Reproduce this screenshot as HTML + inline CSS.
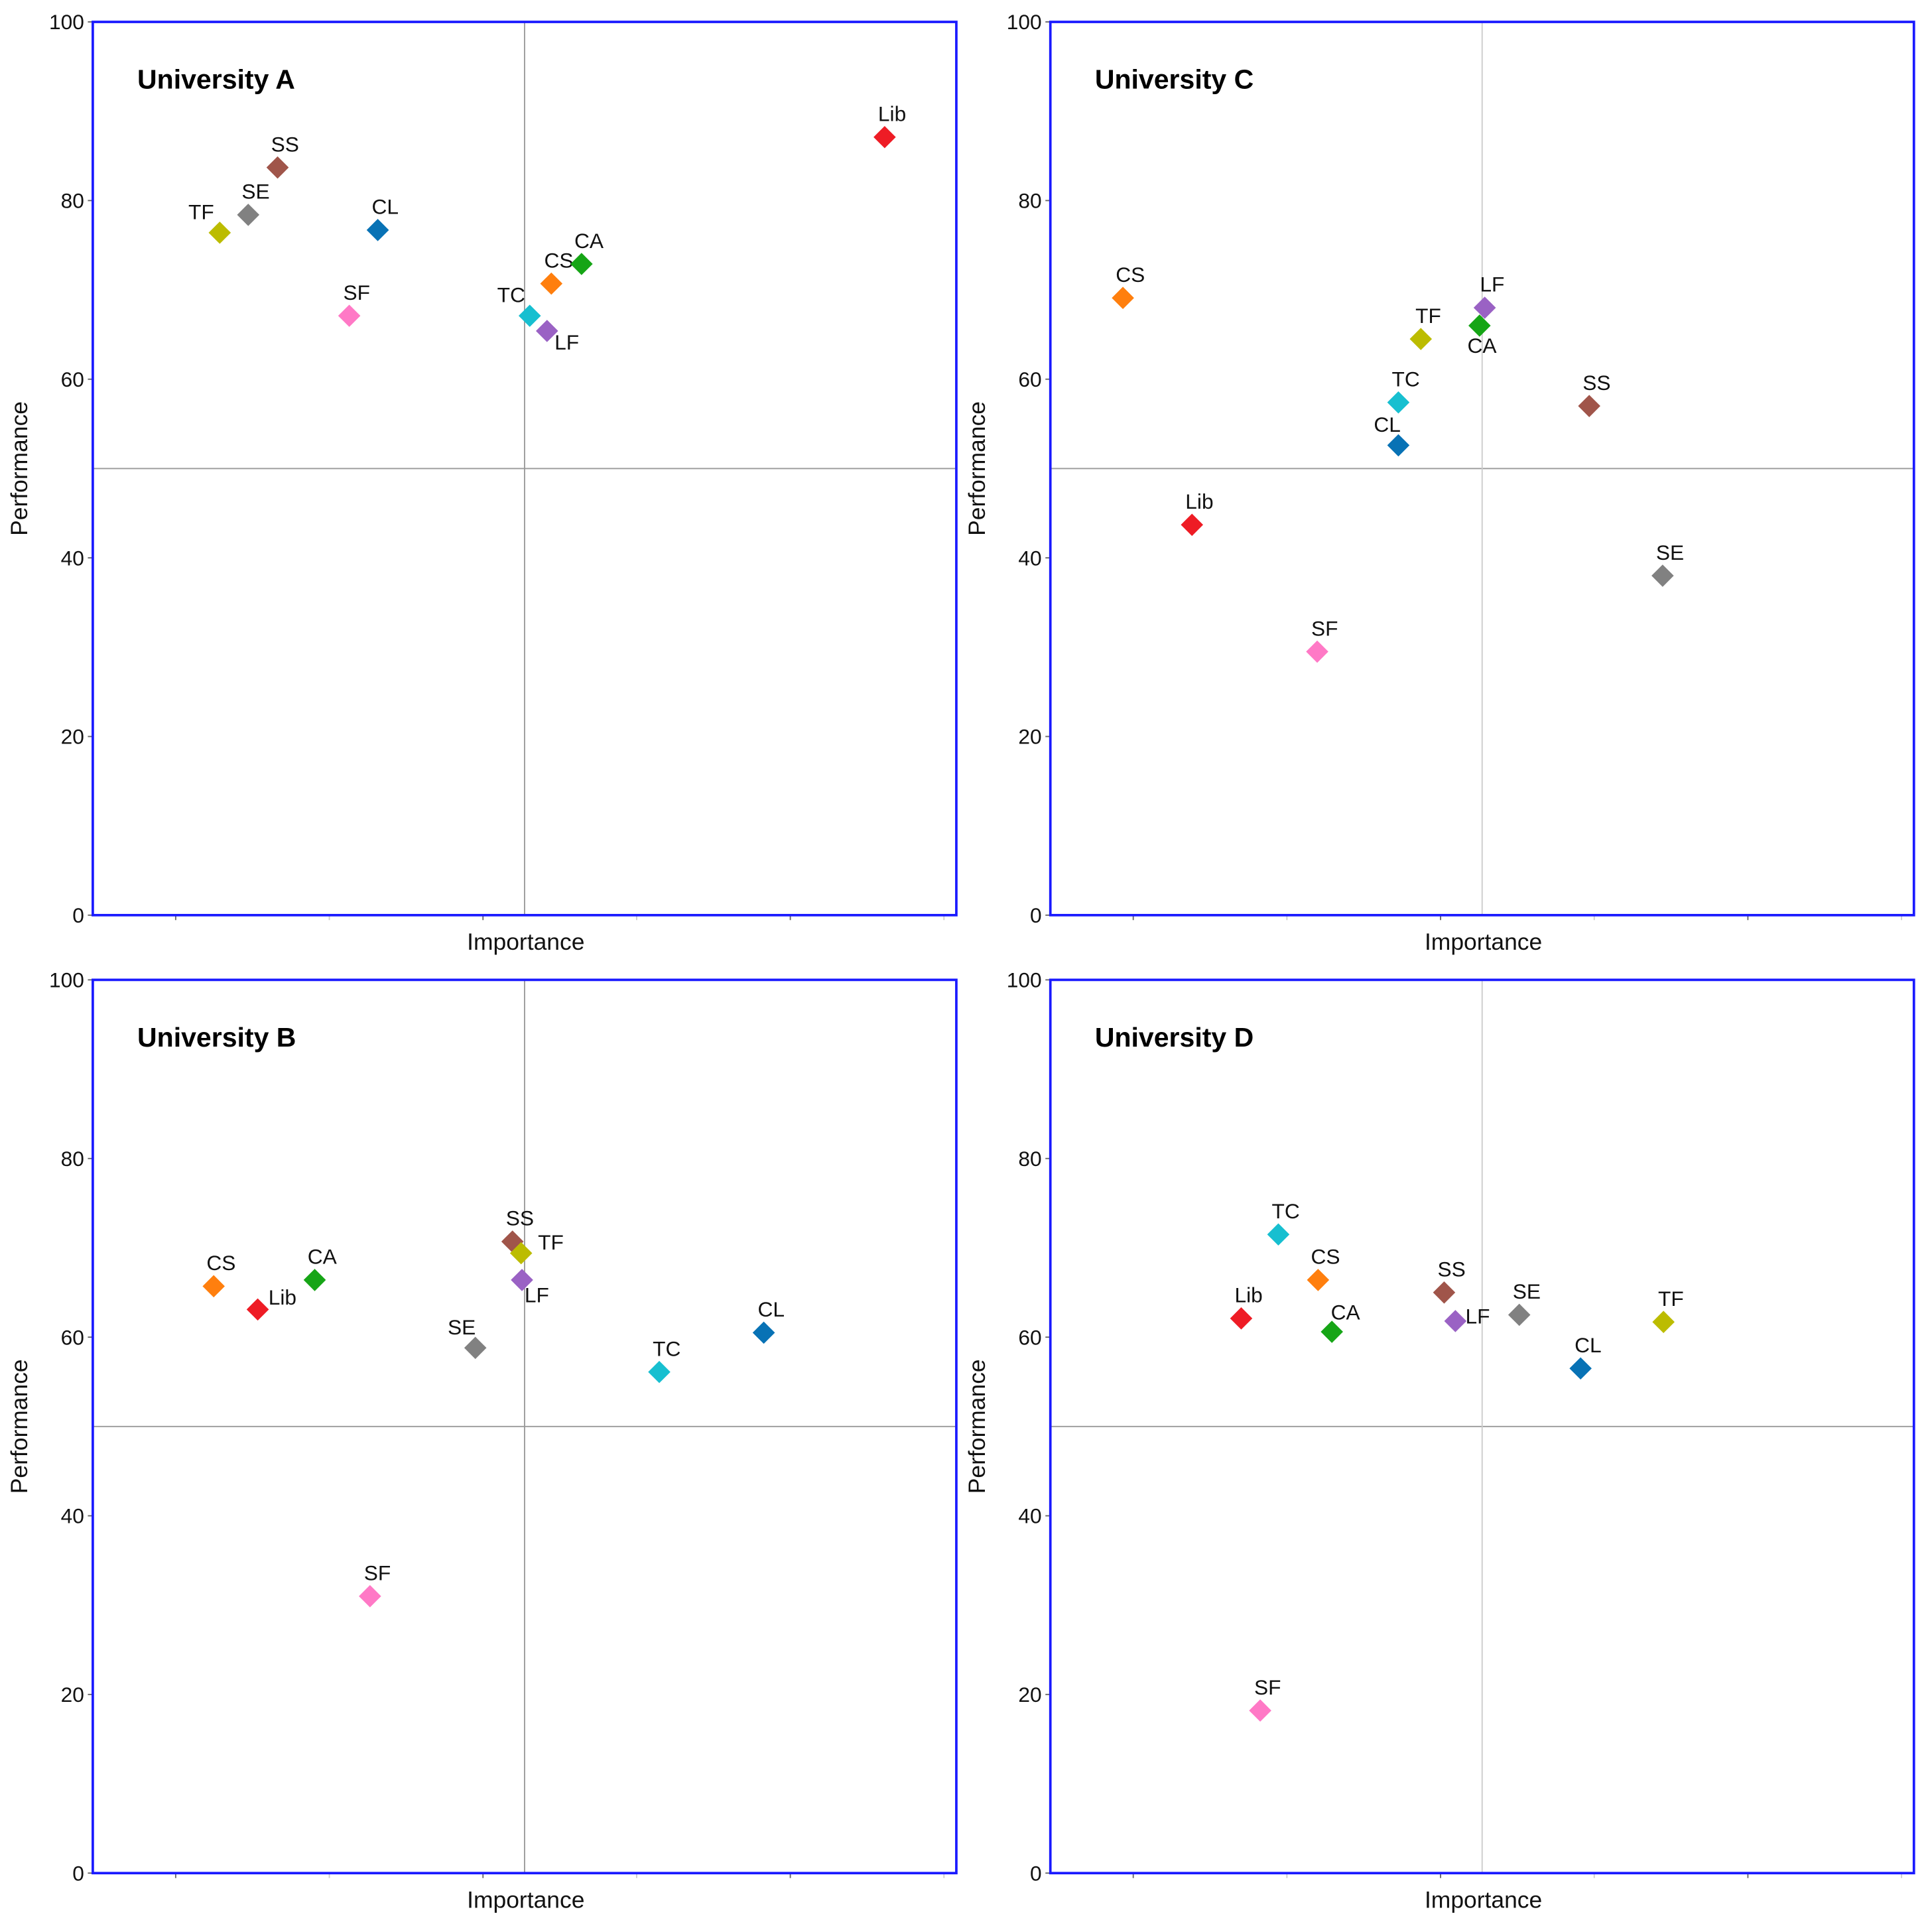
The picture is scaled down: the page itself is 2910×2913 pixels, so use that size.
<!DOCTYPE html>
<html><head><meta charset="utf-8"><style>
html,body{margin:0;padding:0;background:#fff;}
svg{display:block;}
text{font-family:"Liberation Sans",Arial,sans-serif;}
</style></head><body>
<svg id="chart" width="2910" height="2913" viewBox="0 0 1560 1561.6" xmlns="http://www.w3.org/2000/svg"></svg>
<script>
const panelTitles = ["University A","University C","University B","University D"];
const codes = ["Lib","SS","SE","TF","CL","SF","CS","CA","TC","LF"];
const importanceA = [91.7,21.4,18.0,14.7,33.0,29.7,53.1,56.6,50.6,52.6];
const performanceA = [87.1,83.7,78.4,76.4,76.7,67.1,70.7,72.9,67.1,65.4];
const importanceC = [16.4,62.4,70.9,42.9,40.3,30.9,8.4,49.7,40.3,50.3];
const performanceC = [43.7,57.0,38.0,64.5,52.6,29.5,69.1,66.0,57.4,68.0];
const importanceB = [19.1,48.6,44.3,49.6,77.7,32.1,14.0,25.7,65.6,49.7];
const performanceB = [63.1,70.7,58.8,69.4,60.5,31.0,65.7,66.4,56.1,66.4];
const importanceD = [22.1,45.6,54.3,71.0,61.4,24.3,31.0,32.6,26.4,46.9];
const performanceD = [62.1,65.0,62.5,61.7,56.5,18.2,66.4,60.6,71.5,61.8];
const yTicks = [0,20,40,60,80,100];

const colors = {Lib:"#ee1c25",SS:"#a0554a",SE:"#818181",TF:"#bcbc00",CL:"#0872b5",SF:"#ff79c6",CS:"#ff7f0e",CA:"#16a516",TC:"#17bfd0",LF:"#9a62c4"};
const defOff = [6,-19];
const offsets = [
 {TF:[-15,-17],TC:[-15,-17],LF:[16,9]},
 {CA:[2,16],CL:[-9,-17]},
 {Lib:[20,-10],TF:[24,-9],LF:[12,12],SE:[-11,-17]},
 {LF:[18,-4],CA:[11,-16]}
];
const panels = [
 {x:75,y:17.7,imp:importanceA,perf:performanceA,vline:"#999"},
 {x:849,y:17.7,imp:importanceC,perf:performanceC,vline:"#ccc"},
 {x:75,y:792,imp:importanceB,perf:performanceB,vline:"#999"},
 {x:849,y:792,imp:importanceD,perf:performanceD,vline:"#ccc"}
];
const W=698,H=722;
const NS="http://www.w3.org/2000/svg";
const svg=document.getElementById('chart');
function mk(tag,attrs,parent){const e=document.createElementNS(NS,tag);for(const k in attrs)e.setAttribute(k,attrs[k]);(parent||svg).appendChild(e);return e;}

panels.forEach((p,pi)=>{
  const g=mk('g',{});
  
  
  const xs=v=>p.x+v/100*W;
  const ys=v=>p.y+H-v/100*H;
  const hl=mk('line',{x1:p.x,x2:p.x+W,y1:ys(50),y2:ys(50),stroke:"#999","stroke-width":1},g);
  
  
  const vl=mk('line',{x1:xs(50),x2:xs(50),y1:p.y,y2:p.y+H,stroke:p.vline,"stroke-width":1},g);
  
  
  for(let i=0;i<6;i++){
    const tx=p.x+67+i*124.2;
    const t=mk('line',{x1:tx,x2:tx,y1:p.y+H,y2:p.y+H+4,stroke:i%2?"#ccc":"#666","stroke-width":1},g);
    
    
  }
  yTicks.forEach(v=>{
    const t=mk('line',{x1:p.x-4,x2:p.x,y1:ys(v),y2:ys(v),stroke:"#666","stroke-width":1},g);
    
    
    const l=mk('text',{x:p.x-7,y:ys(v)+6,"text-anchor":"end","font-size":17,fill:"#111"},g);
    l.textContent=v;
    
    
  });
  const fr=mk('rect',{x:p.x,y:p.y,width:W,height:H,fill:"none",stroke:"#1a1aff","stroke-width":2},g);
  
  
  const xt=mk('text',{x:p.x+W/2+1,y:p.y+H+28,"text-anchor":"middle","font-size":19,fill:"#111"},g);
  xt.textContent="Importance";
  
  
  const yx=p.x-53, yy=p.y+H/2;
  const yt=mk('text',{x:yx,y:yy,"text-anchor":"middle","font-size":19,fill:"#111",transform:`rotate(-90 ${yx} ${yy})`},g);
  yt.textContent="Performance";
  
  
  const ti=mk('text',{x:p.x+36,y:p.y+54,"font-size":22,"font-weight":"bold",fill:"#000"},g);
  ti.textContent=panelTitles[pi];
  
  
  codes.forEach((c,i)=>{
    const cx=xs(p.imp[i]), cy=ys(p.perf[i]), r=9;
    const d=mk('polygon',{points:`${cx},${cy-r} ${cx+r},${cy} ${cx},${cy+r} ${cx-r},${cy}`,fill:colors[c]},g);
    
    
    const o=offsets[pi][c]||defOff;
    const lb=mk('text',{x:cx+o[0],y:cy+o[1]+6,"text-anchor":"middle","font-size":17,fill:"#111"},g);
    lb.textContent=c;
    
    
  });
});
</script>
</body></html>
